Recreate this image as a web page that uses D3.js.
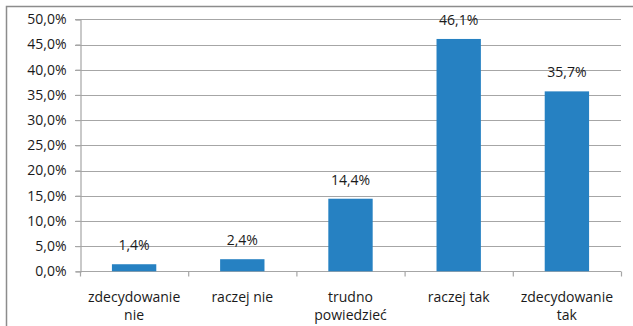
<!DOCTYPE html>
<html>
<head>
<meta charset="utf-8">
<script src="https://cdn.jsdelivr.net/npm/d3@7"></script>
<style>
  body { margin: 0; background: #fff; }
  svg { display: block; }
  text { font-family: "Open Sans", sans-serif; fill: #1a1a1a; }
</style>
</head>
<body>
<svg id="chart" width="633" height="326"></svg>
<script>
// Survey answers and their shares (%)
const categories = [["zdecydowanie", "nie"], ["raczej nie"], ["trudno", "powiedzieć"], ["raczej tak"], ["zdecydowanie", "tak"]];
const values = [1.4, 2.4, 14.4, 46.1, 35.7];
const yTicks = [0, 5, 10, 15, 20, 25, 30, 35, 40, 45, 50];

const svg = d3.select("#chart");
const W = 633, H = 326;
const plot = { left: 80, right: 621, top: 19.3, bottom: 271.3 };

const fmt = v => v.toFixed(1).replace(".", ",") + "%";

// frame (top and left edges)
svg.append("path")
  .attr("d", `M6.5,${H} V6.5 H${W}`)
  .attr("fill", "none")
  .attr("stroke", "#8c8c8c")
  .attr("stroke-width", 1.5);

const x = d3.scaleBand()
  .domain(d3.range(categories.length))
  .range([plot.left, plot.right])
  .paddingInner(0.59)
  .paddingOuter(0.295);

const xTicks = d3.scaleLinear().domain([0, categories.length]).range([plot.left, plot.right]);

const y = d3.scaleLinear().domain([0, 50]).range([plot.bottom, plot.top]);

// horizontal gridlines
svg.append("g")
  .selectAll("line")
  .data(yTicks.slice(1))
  .join("line")
  .attr("x1", plot.left - 5)
  .attr("x2", plot.right)
  .attr("y1", d => Math.round(y(d)) + 0.5)
  .attr("y2", d => Math.round(y(d)) + 0.5)
  .attr("stroke", "#a6a6a6")
  .attr("stroke-width", 1.2);

// y axis
const yAxis = svg.append("g")
  .attr("transform", `translate(${plot.left + 0.5},0)`)
  .call(d3.axisLeft(y).tickValues(yTicks).tickSize(5).tickPadding(9).tickFormat(fmt));
yAxis.select(".domain").attr("stroke", "#a6a6a6").attr("stroke-width", 1.2);
yAxis.selectAll(".tick line").attr("stroke", "#a6a6a6").attr("stroke-width", 1.2);
yAxis.selectAll(".tick text").attr("font-size", 14).attr("font-family", "Open Sans, sans-serif").attr("fill", "#1a1a1a");

// x axis baseline and category ticks
const xAxis = svg.append("g")
  .attr("transform", `translate(0,${Math.round(plot.bottom) + 0.5})`)
  .call(d3.axisBottom(xTicks).ticks(categories.length).tickSize(5).tickFormat(""));
xAxis.select(".domain").attr("stroke", "#a6a6a6").attr("stroke-width", 1.2)
  .attr("d", `M${plot.left},0H${plot.right}`);
xAxis.selectAll(".tick line").attr("stroke", "#a6a6a6").attr("stroke-width", 1.2);

// bars
svg.append("g")
  .selectAll("rect")
  .data(values)
  .join("rect")
  .attr("x", (d, i) => x(i))
  .attr("width", x.bandwidth())
  .attr("y", d => y(d))
  .attr("height", d => y(0) - y(d))
  .attr("fill", "#2681c2");

// value labels
svg.append("g")
  .selectAll("text")
  .data(values)
  .join("text")
  .attr("x", (d, i) => x(i) + x.bandwidth() / 2)
  .attr("y", d => y(d) - 14)
  .attr("text-anchor", "middle")
  .attr("font-size", 14)
  .text(fmt);

// category labels, wrapped onto two lines where needed
const cat = svg.append("g")
  .selectAll("text")
  .data(categories)
  .join("text")
  .attr("x", (d, i) => x(i) + x.bandwidth() / 2)
  .attr("y", 301.5)
  .attr("text-anchor", "middle")
  .attr("font-size", 14);
cat.selectAll("tspan")
  .data(d => d)
  .join("tspan")
  .attr("x", function() { return this.parentNode.getAttribute("x"); })
  .attr("dy", (d, i) => i === 0 ? 0 : 18.5)
  .text(d => d);
</script>
</body>
</html>
